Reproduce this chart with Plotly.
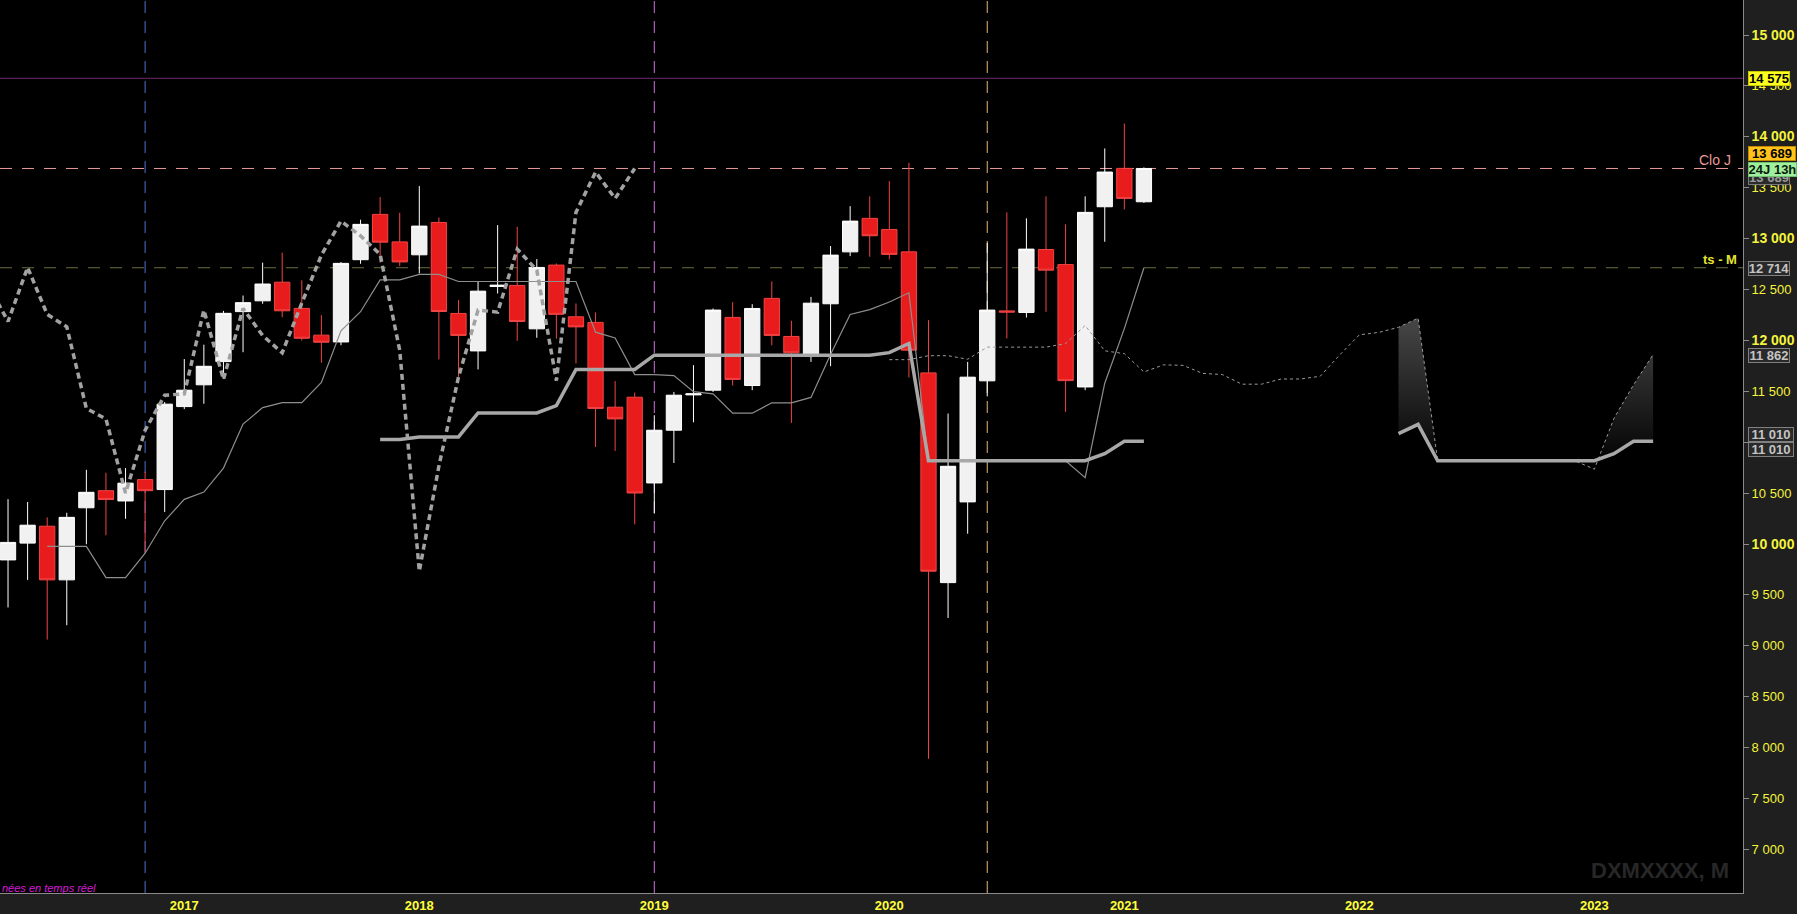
import plotly.graph_objects as go

# ---------------- monthly OHLC ----------------
months = [
    "2016-04", "2016-05", "2016-06", "2016-07", "2016-08", "2016-09", "2016-10", "2016-11", "2016-12",
    "2017-01", "2017-02", "2017-03", "2017-04", "2017-05", "2017-06", "2017-07", "2017-08", "2017-09",
    "2017-10", "2017-11", "2017-12",
    "2018-01", "2018-02", "2018-03", "2018-04", "2018-05", "2018-06", "2018-07", "2018-08", "2018-09",
    "2018-10", "2018-11", "2018-12",
    "2019-01", "2019-02", "2019-03", "2019-04", "2019-05", "2019-06", "2019-07", "2019-08", "2019-09",
    "2019-10", "2019-11", "2019-12",
    "2020-01", "2020-02", "2020-03", "2020-04", "2020-05", "2020-06", "2020-07", "2020-08", "2020-09",
    "2020-10", "2020-11", "2020-12",
    "2021-01", "2021-02",
]
opens = [
    9844, 10009, 10175, 9648, 10356, 10524, 10423, 10633, 10535,
    11350, 11564, 11792, 12283, 12389, 12572, 12315, 12052, 11985, 12793, 13238, 12968,
    12841, 13159, 12265, 11897, 12530, 12540, 12114, 12740, 12232, 12177, 11344, 11442,
    10600, 11118, 11465, 11511, 12226, 11557, 12413, 12039, 11865, 12360, 12870, 13199,
    13090, 12870, 11681, 9621, 10414, 11603, 12290, 12275, 12893, 12745, 11543, 13313,
    13690, 13362,
]
highs = [
    10441, 10413, 10262, 10307, 10729, 10700, 10746, 10711, 11395,
    11817, 11958, 12290, 12441, 12764, 12862, 12590, 12248, 12770, 13186, 13408, 13254,
    13516, 13208, 12396, 12576, 13133, 13116, 12799, 12756, 12363, 12275, 11600, 11488,
    11265, 11494, 11757, 12314, 12376, 12356, 12580, 12193, 12428, 12927, 13319, 13415,
    13565, 13745, 12199, 11282, 11789, 12958, 13258, 13199, 13415, 13140, 13415, 13886,
    14130, 13700,
]
lows = [
    9377, 9648, 9061, 9202, 9998, 10086, 10248, 9915, 10314,
    11325, 11378, 11623, 11884, 12360, 12228, 11999, 11781, 11953, 12753, 12764, 12730,
    12658, 11813, 11642, 11715, 12461, 11996, 12026, 12017, 11774, 10954, 10915, 10194,
    10299, 10796, 11196, 11494, 11557, 11511, 11952, 11190, 11789, 11747, 12828, 12822,
    12796, 11636, 7890, 9274, 10101, 11450, 12019, 12225, 12281, 11298, 11511, 12969,
    13287, 13350,
]
closes = [
    10016, 10185, 9648, 10262, 10508, 10437, 10598, 10524, 11374,
    11511, 11746, 12266, 12371, 12554, 12291, 12021, 11982, 12757, 13140, 12965, 12771,
    13123, 12284, 12049, 12484, 12543, 12186, 12717, 12256, 12133, 11331, 11229, 10501,
    11118, 11462, 11475, 12298, 11617, 12314, 12049, 11878, 12366, 12838, 13172, 13028,
    12845, 11904, 9733, 10764, 11639, 12298, 12278, 12897, 12690, 11605, 13258, 13654,
    13395, 13689,
]

# ---------------- Ichimoku lines ----------------
# Tenkan-sen, from 2016-06 onwards
tenkan = [
    9976, 9976, 9976, 9670, 9670, 9910, 10228, 10439, 10510, 10746, 11178, 11340, 11389, 11389,
    11588, 12094, 12282, 12595, 12595, 12649, 12649, 12579, 12579, 12579, 12579, 12579, 12579,
    12579, 12081, 12024, 11664, 11664, 11655, 11497, 11475, 11285, 11285, 11387, 11387, 11440,
    11862, 12255, 12303, 12378, 12468, 10818, 10818, 10818, 10818, 10818, 10818, 10818, 10818,
    10652, 11580, 12116, 12714,
]
# Kijun-sen, from 2017-11 onwards
kijun = [
    11027, 11027, 11052, 11052, 11052, 11288, 11288, 11288, 11288, 11359, 11715, 11715, 11715,
    11715, 11855, 11855, 11855, 11855, 11855, 11855, 11855, 11855, 11855, 11855, 11855, 11855,
    11880, 11970, 10818, 10818, 10818, 10818, 10818, 10818, 10818, 10818, 10818, 10888, 11010,
    11010,
]
# Senkou span A (computed from 2017-11 onwards, plotted 26 months ahead)
senkou_a = [
    11811, 11811, 11850, 11850, 11815, 11934, 11934, 11934, 11934, 11969, 12147, 11898, 11870,
    11690, 11760, 11755, 11676, 11665, 11570, 11570, 11621, 11621, 11648, 11858, 12055, 12079,
    12129, 12219, 10818, 10818, 10818, 10818, 10818, 10818, 10818, 10818, 10735, 11234, 11563,
    11862,
]
# Senkou span B (computed from 2020-01 onwards, plotted 26 months ahead)
senkou_b = [11085, 11175, 10818, 10818, 10818, 10818, 10818, 10818, 10818, 10818, 10818, 10888, 11010, 11010]
SHIFT = 26

# ---------------- axes / annotations ----------------
year_labels = ["2017", "2018", "2019", "2020", "2021", "2022", "2023"]
price_ticks = list(range(7000, 15001, 500))
marker_months = ["2016-11", "2019-01", "2020-06"]
marker_colors = ["#4f6fd0", "#d070e0", "#e8b878"]
level_high = 14575
level_close = 13689
level_tenkan = 12714
label_spanA = 11862
label_kijun = 11010

X_MIN, X_MAX = -0.41, 88.59
Y_MIN, Y_MAX = 6572, 15344


def month_pos(label):
    y, m = map(int, label.split("-"))
    return (y - 2016) * 12 + (m - 4)


def fmt(v):
    return f"{v:,}".replace(",", " ")


xc = [month_pos(m) for m in months]
x_tenkan = xc[2:]
x_kijun = xc[19:]
x_span_a = [p + SHIFT for p in xc[19:]]
x_span_b = [p + SHIFT for p in xc[45:]]
x_chikou = [p - SHIFT for p in xc[25:]]
y_chikou = closes[25:]

fig = go.Figure()

fig.add_trace(go.Candlestick(
    x=xc, open=opens, high=highs, low=lows, close=closes,
    increasing=dict(fillcolor="#f1f1f1", line=dict(color="#ffffff", width=1)),
    decreasing=dict(fillcolor="#e81c1c", line=dict(color="#f24444", width=1)),
    whiskerwidth=0, showlegend=False, hoverinfo="skip",
))

# cloud between the two senkou spans
fig.add_trace(go.Scatter(
    x=x_span_b, y=senkou_b, mode="lines", line=dict(width=0, color="rgba(0,0,0,0)"),
    showlegend=False, hoverinfo="skip",
))
fig.add_trace(go.Scatter(
    x=x_span_b, y=senkou_a[26:], mode="lines", line=dict(width=0, color="rgba(0,0,0,0)"),
    fill="tonexty",
    fillgradient=dict(type="vertical", colorscale=[[0, "#000000"], [1, "#474747"]]),
    showlegend=False, hoverinfo="skip",
))

fig.add_trace(go.Scatter(
    x=x_tenkan, y=tenkan, mode="lines", line=dict(color="#8e8e8e", width=1.2),
    showlegend=False, hoverinfo="skip",
))
fig.add_trace(go.Scatter(
    x=x_span_a, y=senkou_a, mode="lines", line=dict(color="#9a9a9a", width=1, dash="3px,3px"),
    showlegend=False, hoverinfo="skip",
))
fig.add_trace(go.Scatter(
    x=x_kijun, y=kijun, mode="lines", line=dict(color="#a8a8a8", width=3.5),
    showlegend=False, hoverinfo="skip",
))
fig.add_trace(go.Scatter(
    x=x_span_b, y=senkou_b, mode="lines", line=dict(color="#a8a8a8", width=3.5),
    showlegend=False, hoverinfo="skip",
))
fig.add_trace(go.Scatter(
    x=x_chikou, y=y_chikou, mode="lines", line=dict(color="#a2a2a2", width=3.5, dash="6px,4px"),
    showlegend=False, hoverinfo="skip",
))

shapes = []
for m, c in zip(marker_months, marker_colors):
    p = month_pos(m)
    shapes.append(dict(type="line", xref="x", yref="paper", x0=p, x1=p, y0=0, y1=1,
                       line=dict(color=c, width=1, dash="12px,8px"), layer="below"))
shapes.append(dict(type="line", xref="paper", yref="y", x0=0, x1=1, y0=level_high, y1=level_high,
                   line=dict(color="#6e2c6e", width=1), layer="below"))
shapes.append(dict(type="line", xref="paper", yref="y", x0=0, x1=1, y0=level_close, y1=level_close,
                   line=dict(color="#e89a9a", width=1, dash="12px,10px"), layer="below"))
shapes.append(dict(type="line", xref="paper", yref="y", x0=0, x1=1, y0=level_tenkan, y1=level_tenkan,
                   line=dict(color="#6c6c3c", width=1, dash="12px,10px"), layer="below"))

annotations = []


def value_box(text, value, yshift, bg, fg, border, width):
    annotations.append(dict(
        x=1, xref="paper", xanchor="left", xshift=5, y=value, yref="y", yanchor="middle",
        yshift=yshift, text=text, showarrow=False, bgcolor=bg, bordercolor=border,
        borderwidth=1, borderpad=0, width=width, height=13, align="center",
        font=dict(family="Liberation Sans, Arial", size=13, color=fg, weight="bold"),
    ))


value_box(fmt(level_high), level_high, 0, "#ffff1e", "#000000", "#c8c800", 40)
value_box(fmt(level_close), level_close, -9, "#2a2a2a", "#9a9a9a", "#7a7a7a", 40)
value_box(fmt(level_close), level_close, 15, "#ffc31c", "#000000", "#c08a00", 46)
value_box("24J 13h", level_close, -1, "#9ef09e", "#0a1a0a", "#70c070", 47)
value_box(fmt(level_tenkan), level_tenkan, -1, "#2a2a2a", "#c4c4c4", "#808080", 40)
value_box(fmt(label_spanA), label_spanA, -1, "#2a2a2a", "#c4c4c4", "#808080", 40)
value_box(fmt(label_kijun), label_kijun, 7, "#2a2a2a", "#c4c4c4", "#808080", 44)
value_box(fmt(label_kijun), label_kijun, -8, "#2a2a2a", "#c4c4c4", "#808080", 44)

annotations.append(dict(
    x=1, xref="paper", xanchor="right", xshift=-10, y=level_close, yref="y", yanchor="middle",
    yshift=8, text="Clo J", showarrow=False,
    font=dict(family="Liberation Sans, Arial", size=14, color="#e89a9a"),
))
annotations.append(dict(
    x=1, xref="paper", xanchor="right", xshift=-4, y=level_tenkan, yref="y", yanchor="middle",
    yshift=8, text="ts - M", showarrow=False,
    font=dict(family="Liberation Sans, Arial", size=13, color="#e6e630", weight="bold"),
))
annotations.append(dict(
    x=1731 / 1743, xref="paper", xanchor="right", y=23 / 893, yref="paper", yanchor="middle",
    text="DXMXXXX, M", showarrow=False,
    font=dict(family="Liberation Sans, Arial", size=22, color="#272727", weight="bold"),
))
annotations.append(dict(
    x=0, xref="paper", xanchor="left", y=5 / 893, yref="paper", yanchor="middle",
    text="<i>nées en temps réel</i>", showarrow=False,
    font=dict(family="Liberation Sans, Arial", size=11, color="#d81ad8"),
))

tick_text = [
    f"<span style='font-size:14px'><b>{fmt(v)}</b></span>" if (v >= 10000 and v % 1000 == 0) else fmt(v)
    for v in price_ticks
]

fig.update_layout(
    width=1797, height=914, autosize=False,
    margin=dict(l=0, r=54, t=0, b=21, pad=0),
    paper_bgcolor="#1f1f1f", plot_bgcolor="#000000",
    showlegend=False, hovermode=False,
    boxgap=0.22, boxgroupgap=0,
    shapes=shapes, annotations=annotations,
    xaxis=dict(
        range=[X_MIN, X_MAX], showgrid=False, zeroline=False, rangeslider=dict(visible=False),
        automargin=False,
        showline=True, linecolor="#8a8a8a", linewidth=1,
        ticks="",
        tickvals=[month_pos(f"{y}-01") for y in year_labels], ticktext=year_labels,
        tickfont=dict(family="Liberation Sans Narrow, Liberation Sans, Arial", size=13,
                      color="#ffff3c", weight="bold"),
    ),
    yaxis=dict(
        side="right", range=[Y_MIN, Y_MAX], showgrid=False, zeroline=False,
        automargin=False,
        showline=True, linecolor="#8a8a8a", linewidth=1,
        ticks="outside", ticklen=5, tickcolor="#8a8a8a",
        tickvals=price_ticks, ticktext=tick_text,
        tickfont=dict(family="Liberation Sans, Arial", size=13, color="#f4f43c"),
    ),
)

fig.write_html("out.html", post_script="document.body.style.margin='0';document.body.style.overflow='hidden';")
